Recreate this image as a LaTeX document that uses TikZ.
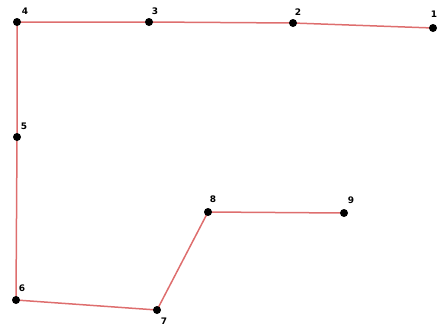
\documentclass[tikz,border=0pt]{standalone}
\usepackage{fontspec}
\setmainfont{DejaVu Sans}
\begin{document}
\begin{tikzpicture}[x=1pt,y=-1pt,
  pt/.style={circle,fill=black,inner sep=0pt,minimum size=8pt},
  lbl/.style={font=\fontsize{9}{9}\selectfont\bfseries,inner sep=0pt},
  seg/.style={draw={rgb,255:red,222;green,110;blue,110},line width=1.5pt}]
\useasboundingbox (0,0) rectangle (439,333);
\coordinate (c1) at (433,28);
\coordinate (c2) at (293,23);
\coordinate (c3) at (149,22);
\coordinate (c4) at (17,22);
\coordinate (c5) at (17,137);
\coordinate (c6) at (16,300);
\coordinate (c7) at (157,310);
\coordinate (c8) at (208,212);
\coordinate (c9) at (344,213);
\draw[seg] (c1) -- (c2) -- (c3) -- (c4) -- (c5) -- (c6) -- (c7) -- (c8) -- (c9);
\foreach \i in {1,...,9} {\node[pt] (p\i) at (c\i) {};}
\node[lbl] (l1) at (434,14) {1};
\node[lbl] (l2) at (298,12) {2};
\node[lbl] (l3) at (155,11) {3};
\node[lbl] (l4) at (25,11) {4};
\node[lbl] (l5) at (24,126) {5};
\node[lbl] (l6) at (22,288) {6};
\node[lbl] (l7) at (164,321) {7};
\node[lbl] (l8) at (213,199) {8};
\node[lbl] (l9) at (351,200) {9};
\end{tikzpicture}
\end{document}
